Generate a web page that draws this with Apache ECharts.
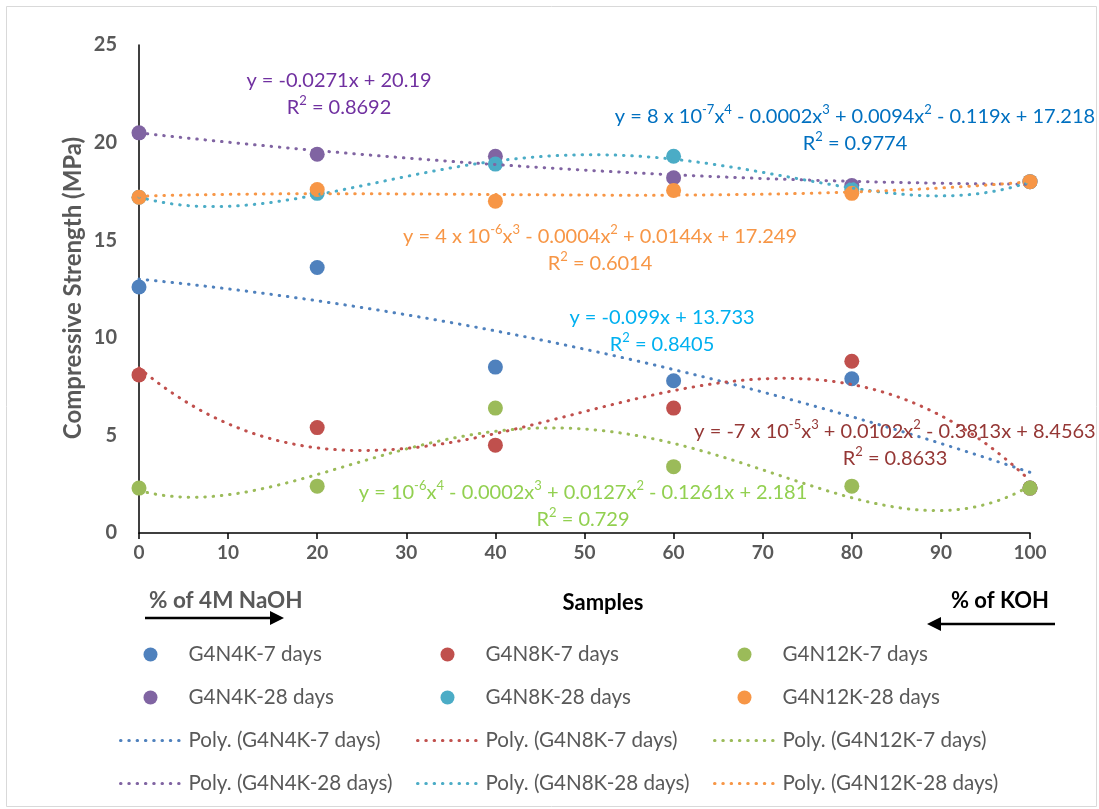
<!DOCTYPE html>
<html>
<head>
<meta charset="utf-8">
<script src="https://cdn.jsdelivr.net/npm/echarts@6/dist/echarts.min.js"></script>
<style>
  html, body { margin: 0; padding: 0; background: #fff; }
  #chart { width: 1099px; height: 809px; }
</style>
</head>
<body>
<div id="chart"></div>
<script>
// Replacement of NaOH by KOH (%), sample positions on the x axis
const xValues = [0, 20, 40, 60, 80, 100];

// Compressive strength (MPa) per mix and curing age
const g4n4k7  = [12.6, 13.6, 8.5, 7.8, 7.9, 2.3];
const g4n8k7  = [8.1, 5.4, 4.5, 6.4, 8.8, 2.3];
const g4n12k7 = [2.3, 2.4, 6.4, 3.4, 2.4, 2.3];
const g4n4k28  = [20.5, 19.4, 19.3, 18.2, 17.8, 18.0];
const g4n8k28  = [17.2, 17.4, 18.9, 19.3, 17.6, 18.0];
const g4n12k28 = [17.2, 17.6, 17.0, 17.55, 17.4, 18.0];

const seriesNames = ['G4N4K-7 days', 'G4N8K-7 days', 'G4N12K-7 days',
                     'G4N4K-28 days', 'G4N8K-28 days', 'G4N12K-28 days'];
const seriesValues = [g4n4k7, g4n8k7, g4n12k7, g4n4k28, g4n8k28, g4n12k28];
// polynomial order of each trendline
const trendOrders = [2, 3, 4, 2, 4, 3];
const colors = ['#4F81BD', '#C0504D', '#9BBB59', '#8064A2', '#4BACC6', '#F79646'];

const yTicks = { min: 0, max: 25, interval: 5 };
const xTicks = { min: 0, max: 100, interval: 10 };

// Least-squares polynomial regression (x scaled to 0..1 for stability)
function polyFit(xs, ys, order) {
  const n = order + 1;
  const A = Array.from({ length: n }, () => new Array(n + 1).fill(0));
  xs.forEach((x, k) => {
    const u = x / 100;
    for (let i = 0; i < n; i++) {
      for (let j = 0; j < n; j++) A[i][j] += Math.pow(u, i + j);
      A[i][n] += ys[k] * Math.pow(u, i);
    }
  });
  for (let c = 0; c < n; c++) {
    let p = c;
    for (let r = c + 1; r < n; r++) if (Math.abs(A[r][c]) > Math.abs(A[p][c])) p = r;
    [A[c], A[p]] = [A[p], A[c]];
    for (let r = 0; r < n; r++) {
      if (r === c) continue;
      const f = A[r][c] / A[c][c];
      for (let k = c; k <= n; k++) A[r][k] -= f * A[c][k];
    }
  }
  const coef = A.map((row, i) => row[n] / row[i]);
  return x => coef.reduce((s, a, i) => s + a * Math.pow(x / 100, i), 0);
}

function trendPoints(ys, order) {
  const f = polyFit(xValues, ys, order);
  const pts = [];
  for (let x = xTicks.min; x <= xTicks.max; x += 1) pts.push([x, f(x)]);
  return pts;
}

const FONT = 'Lato, "Open Sans", sans-serif';
const dotted = { type: [0.5, 7.8], cap: 'round', width: 3 };

const series = [];
seriesNames.forEach((name, i) => {
  series.push({
    name: name,
    type: 'scatter',
    data: xValues.map((x, k) => [x, seriesValues[i][k]]),
    symbol: 'circle',
    symbolSize: 15,
    itemStyle: { color: colors[i], opacity: 1 },
    z: 2
  });
});
seriesNames.forEach((name, i) => {
  series.push({
    name: 'Poly. (' + name + ')',
    type: 'line',
    data: trendPoints(seriesValues[i], trendOrders[i]),
    showSymbol: false,
    symbol: 'none',
    smooth: false,
    lineStyle: Object.assign({ color: colors[i] }, dotted),
    itemStyle: { color: colors[i] },
    silent: true,
    z: 3
  });
});

function legendCol(left, idxA, idxB) {
  const names = [seriesNames[idxA], seriesNames[idxB],
                 'Poly. (' + seriesNames[idxA] + ')', 'Poly. (' + seriesNames[idxB] + ')'];
  return {
    orient: 'vertical',
    left: left,
    top: 639,
    itemGap: 22,
    itemWidth: 60,
    itemHeight: 14,
    selectedMode: false,
    data: names.map((n, k) => k < 2 ? { name: n, icon: 'circle' } :
      { name: n, itemStyle: { opacity: 0 },
        lineStyle: Object.assign({ color: colors[k === 2 ? idxA : idxB], opacity: 1 }, dotted) }),
    textStyle: { fontFamily: FONT, fontSize: 20.6, color: '#595959', lineHeight: 21, padding: [0, 0, 0, 3] }
  };
}

// Equation labels with superscripts
function eqText(x, y, parts, r2, color) {
  return {
    type: 'text',
    x: x, y: y,
    z: 10,
    style: {
      text: parts + '\n{t|R}{s|2}{t| = ' + r2 + '}',
      rich: {
        t: { fontFamily: FONT, fontSize: 20, fill: color, lineHeight: 27 },
        s: { fontFamily: FONT, fontSize: 13, fill: color, lineHeight: 12, verticalAlign: 'top' }
      },
      align: 'center',
      verticalAlign: 'middle'
    }
  };
}

const graphics = [
  eqText(339, 94, '{t|y = -0.0271x + 20.19}', '0.8692', '#7030A0'),
  eqText(855, 130, '{t|y = 8 x 10}{s|-7}{t|x}{s|4}{t| - 0.0002x}{s|3}{t| + 0.0094x}{s|2}{t| - 0.119x + 17.218}', '0.9774', '#0070C0'),
  eqText(600, 250, '{t|y = 4 x 10}{s|-6}{t|x}{s|3}{t| - 0.0004x}{s|2}{t| + 0.0144x + 17.249}', '0.6014', '#F79646'),
  eqText(662, 331, '{t|y = -0.099x + 13.733}', '0.8405', '#00B0F0'),
  eqText(895, 445, '{t|y = -7 x 10}{s|-5}{t|x}{s|3}{t| + 0.0102x}{s|2}{t| - 0.3813x + 8.4563}', '0.8633', '#953735'),
  eqText(583, 506, '{t|y = 10}{s|-6}{t|x}{s|4}{t| - 0.0002x}{s|3}{t| + 0.0127x}{s|2}{t| - 0.1261x + 2.181}', '0.729', '#92D050'),
  // y axis title
  {
    type: 'text', x: 73, y: 288, rotation: Math.PI / 2,
    style: { text: 'Compressive Strength (MPa)', font: 'bold 24px ' + FONT, fill: '#595959',
             align: 'center', verticalAlign: 'middle' }
  },
  // x axis captions
  { type: 'text', x: 149, y: 601, style: { text: '% of 4M NaOH', font: 'bold 22.5px ' + FONT, fill: '#595959', align: 'left', verticalAlign: 'middle' } },
  { type: 'text', x: 603, y: 603, style: { text: 'Samples', font: 'bold 22px ' + FONT, fill: '#000', align: 'center', verticalAlign: 'middle' } },
  { type: 'text', x: 951, y: 601, style: { text: '% of KOH', font: 'bold 22px ' + FONT, fill: '#000', align: 'left', verticalAlign: 'middle' } },
  // direction arrows
  { type: 'line', shape: { x1: 145, y1: 618, x2: 272, y2: 618 }, style: { stroke: '#000', lineWidth: 2.5 } },
  { type: 'polygon', shape: { points: [[270, 611], [284, 618], [270, 625]] }, style: { fill: '#000' } },
  { type: 'line', shape: { x1: 938, y1: 624, x2: 1055, y2: 624 }, style: { stroke: '#000', lineWidth: 2.5 } },
  { type: 'polygon', shape: { points: [[941, 617], [927, 624], [941, 631]] }, style: { fill: '#000' } },
  // chart frame
  { type: 'rect', shape: { x: 6.5, y: 6.5, width: 1090, height: 800 }, style: { fill: 'none', stroke: '#D9D9D9', lineWidth: 1 }, z: -1 }
];

const chart = echarts.init(document.getElementById('chart'), null, { renderer: 'canvas' });
chart.setOption({
  backgroundColor: '#fff',
  animation: false,
  grid: { left: 139, right: 69, top: 45, bottom: 276, containLabel: false },
  xAxis: {
    type: 'value',
    min: xTicks.min, max: xTicks.max, interval: xTicks.interval,
    axisLine: { show: true, onZero: false, lineStyle: { color: '#000', width: 1.5 } },
    axisTick: { show: true, inside: false, length: 6, lineStyle: { color: '#000', width: 1.5 } },
    axisLabel: { fontFamily: FONT, fontWeight: 'bold', fontSize: 19, color: '#595959', margin: 10 },
    splitLine: { show: false }
  },
  yAxis: {
    type: 'value',
    min: yTicks.min, max: yTicks.max, interval: yTicks.interval,
    axisLine: { show: true, onZero: false, lineStyle: { color: '#000', width: 1.5 } },
    axisTick: { show: false },
    axisLabel: { fontFamily: FONT, fontWeight: 'bold', fontSize: 20, color: '#595959', margin: 22 },
    splitLine: { show: false }
  },
  legend: [legendCol(114, 0, 3), legendCol(411, 1, 4), legendCol(708, 2, 5)],
  series: series,
  graphic: graphics
});
</script>
</body>
</html>
